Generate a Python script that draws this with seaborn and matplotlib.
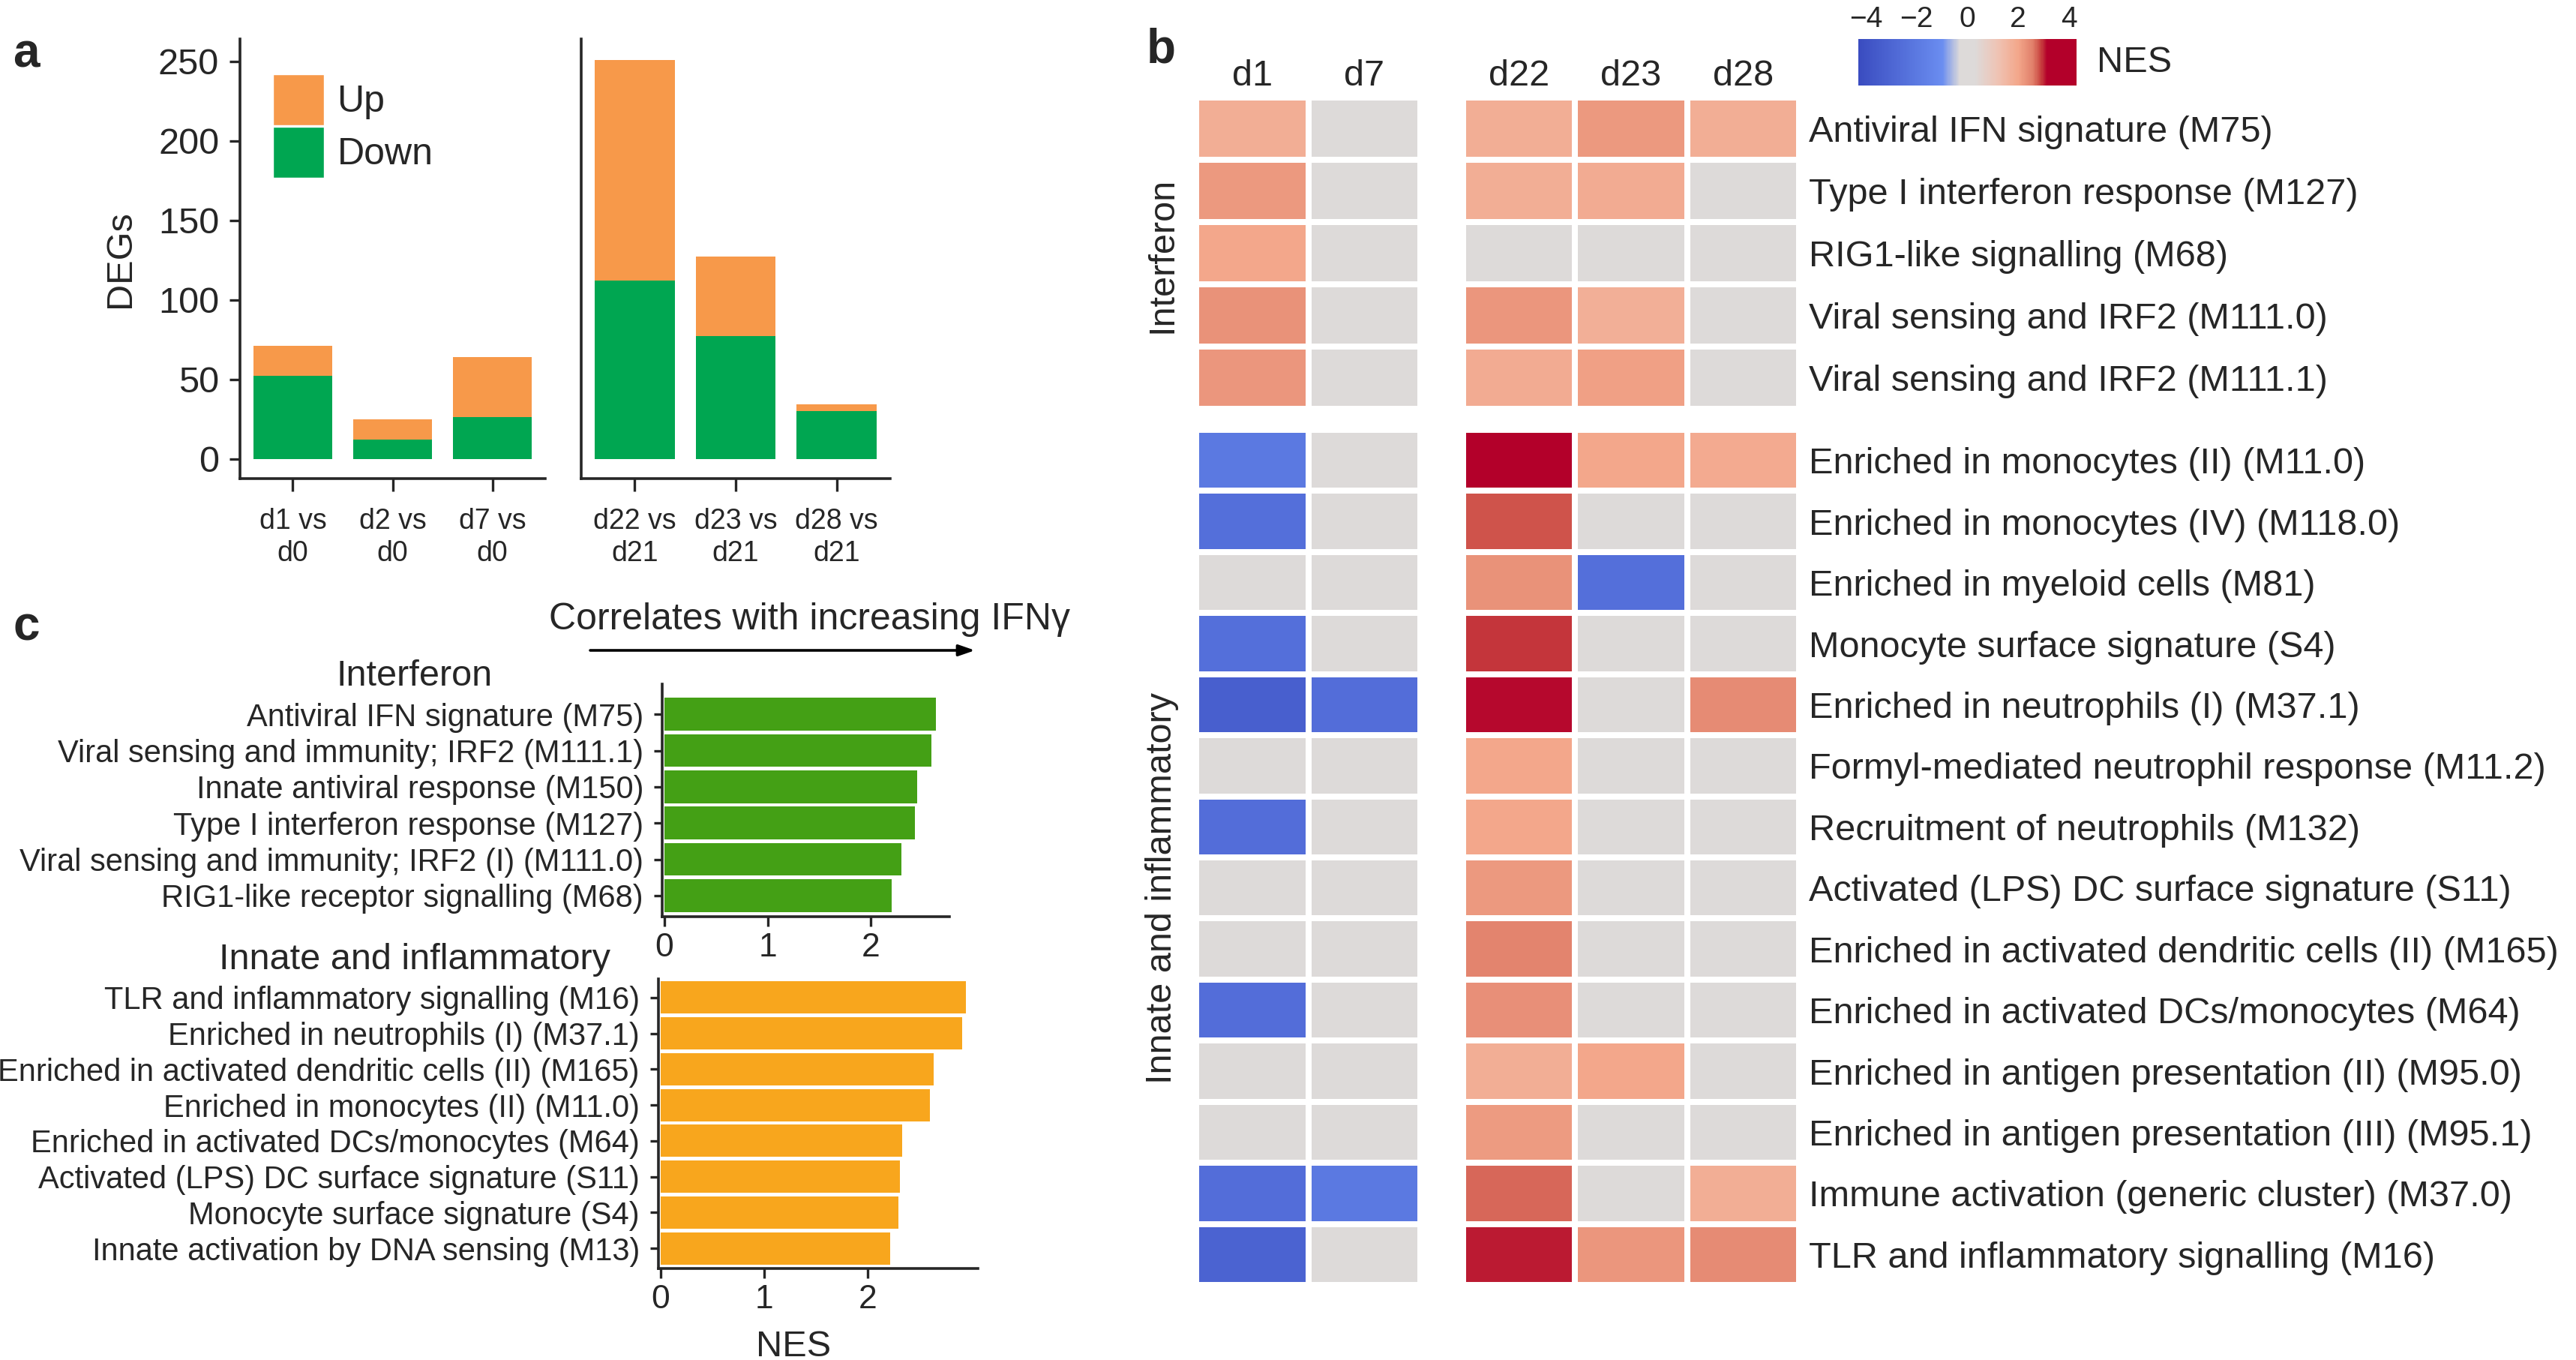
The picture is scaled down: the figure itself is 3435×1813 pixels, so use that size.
import numpy as np
import pandas as pd
import matplotlib

matplotlib.use("Agg")
import matplotlib.pyplot as plt
import seaborn as sns
from matplotlib.colors import LinearSegmentedColormap
from matplotlib.patches import Patch

# ---------------- data ----------------
# panel a: DEG counts per comparison
prime_labels = ["d1 vs\nd0", "d2 vs\nd0", "d7 vs\nd0"]
boost_labels = ["d22 vs\nd21", "d23 vs\nd21", "d28 vs\nd21"]
prime_down = [52, 12, 26]
prime_up = [19, 13, 38]
boost_down = [112, 77, 30]
boost_up = [139, 50, 4]

# panel b: NES heatmap (0 = not significant)
days_prime = ["d1", "d7"]
days_boost = ["d22", "d23", "d28"]
ifn_modules = [
    "Antiviral IFN signature (M75)",
    "Type I interferon response (M127)",
    "RIG1-like signalling (M68)",
    "Viral sensing and IRF2 (M111.0)",
    "Viral sensing and IRF2 (M111.1)",
]
ifn_nes = [
    [1.8, 0, 1.8, 2.2, 1.8],
    [2.2, 0, 1.8, 1.85, 0],
    [2.0, 0, 0, 0, 0],
    [2.3, 0, 2.25, 1.75, 0],
    [2.25, 0, 1.85, 2.1, 0],
]
inn_modules = [
    "Enriched in monocytes (II) (M11.0)",
    "Enriched in monocytes (IV) (M118.0)",
    "Enriched in myeloid cells (M81)",
    "Monocyte surface signature (S4)",
    "Enriched in neutrophils (I) (M37.1)",
    "Formyl-mediated neutrophil response (M11.2)",
    "Recruitment of neutrophils (M132)",
    "Activated (LPS) DC surface signature (S11)",
    "Enriched in activated dendritic cells (II) (M165)",
    "Enriched in activated DCs/monocytes (M64)",
    "Enriched in antigen presentation (II) (M95.0)",
    "Enriched in antigen presentation (III) (M95.1)",
    "Immune activation (generic cluster) (M37.0)",
    "TLR and inflammatory signalling (M16)",
]
inn_nes = [
    [-2.0, 0, 3.6, 2.0, 1.9],
    [-2.5, 0, 2.8, 0, 0],
    [0, 0, 2.3, -2.5, 0],
    [-2.5, 0, 2.95, 0, 0],
    [-3.3, -2.6, 3.1, 0, 2.4],
    [0, 0, 2.0, 0, 0],
    [-2.6, 0, 2.0, 0, 0],
    [0, 0, 2.2, 0, 0],
    [0, 0, 2.5, 0, 0],
    [-2.6, 0, 2.35, 0, 0],
    [0, 0, 1.8, 2.0, 0],
    [0, 0, 2.15, 0, 0],
    [-2.6, -2.0, 2.7, 0, 1.8],
    [-3.1, 0, 3.05, 2.25, 2.4],
]
cbar_ticks = [-4, -2, 0, 2, 4]

# panel c: NES correlating with IFNg
c_ifn_modules = [
    "Antiviral IFN signature (M75)",
    "Viral sensing and immunity; IRF2 (M111.1)",
    "Innate antiviral response (M150)",
    "Type I interferon response (M127)",
    "Viral sensing and immunity; IRF2 (I) (M111.0)",
    "RIG1-like receptor signalling (M68)",
]
c_ifn_nes = [2.63, 2.59, 2.45, 2.43, 2.30, 2.20]
c_inn_modules = [
    "TLR and inflammatory signalling (M16)",
    "Enriched in neutrophils (I) (M37.1)",
    "Enriched in activated dendritic cells (II) (M165)",
    "Enriched in monocytes (II) (M11.0)",
    "Enriched in activated DCs/monocytes (M64)",
    "Activated (LPS) DC surface signature (S11)",
    "Monocyte surface signature (S4)",
    "Innate activation by DNA sensing (M13)",
]
c_inn_nes = [2.95, 2.91, 2.64, 2.60, 2.33, 2.31, 2.30, 2.22]

# ---------------- style ----------------
sns.set_style("white")
plt.rcParams["font.family"] = ["Liberation Sans", "DejaVu Sans"]
plt.rcParams["axes.linewidth"] = 2.6

W, H = 3435, 1813
fig = plt.figure(figsize=(W / 100, H / 100), dpi=100)


def px_axes(x0, y0, x1, y1):
    """Add axes using pixel coordinates (origin top-left)."""
    return fig.add_axes([x0 / W, 1 - y1 / H, (x1 - x0) / W, (y1 - y0) / H])


UP_COL = "#f7994a"
DOWN_COL = "#00a651"
GREEN_C = "#44a015"
ORANGE_C = "#f8a61d"
FS = 35

# ---------------- panel a ----------------
ax_a1 = px_axes(320, 52, 727, 638)
ax_a2 = px_axes(775, 52, 1187, 638)
for ax, labels, down, up in [
    (ax_a1, prime_labels, prime_down, prime_up),
    (ax_a2, boost_labels, boost_down, boost_up),
]:
    totals = [d + u for d, u in zip(down, up)]
    sns.barplot(x=labels, y=totals, color=UP_COL, width=0.79, saturation=1,
                linewidth=0, ax=ax)
    sns.barplot(x=labels, y=down, color=DOWN_COL, width=0.79, saturation=1,
                linewidth=0, ax=ax)
    ax.set_ylim(-12.5, 264)
    ax.set_xlim(-0.53, 2.53)
    sns.despine(ax=ax)
    ax.tick_params(axis="x", length=12, width=2.4, labelsize=27, pad=16,
                   direction="out", bottom=True)
    for lab in ax.get_xticklabels():
        lab.set_linespacing(1.25)

ax_a1.set_yticks([0, 50, 100, 150, 200, 250])
ax_a1.tick_params(axis="y", length=10, width=2.4, labelsize=FS, pad=10,
                  direction="out", left=True)
ax_a1.set_ylabel("DEGs", fontsize=FS, labelpad=20)
ax_a2.set_yticks([])

handles = [Patch(facecolor=UP_COL, label="Up"), Patch(facecolor=DOWN_COL, label="Down")]
ax_a1.legend(handles=handles, loc="upper left", bbox_to_anchor=(364 / W, 1 - 99 / H),
             bbox_transform=fig.transFigure, frameon=False, fontsize=36,
             handlelength=1.36, handleheight=1.7, labelspacing=0.05,
             handletextpad=0.35, borderpad=0, borderaxespad=0)

fig.text(17 / W, 1 - 72 / H, "a", fontsize=46, fontweight="bold", va="center")

# ---------------- panel b ----------------
nes_cmap = LinearSegmentedColormap.from_list(
    "nes",
    [
        (0.0, "#3a4cc0"),
        ((-1.0 + 4.3) / 8.6, "#6a8df0"),
        ((-0.3 + 4.3) / 8.6, "#dddad9"),
        ((0.3 + 4.3) / 8.6, "#dddad9"),
        ((1.2 + 4.3) / 8.6, "#efc3b4"),
        ((2.0 + 4.3) / 8.6, "#f3a78b"),
        ((2.6 + 4.3) / 8.6, "#e07e69"),
        ((2.9 + 4.3) / 8.6, "#c8423f"),
        ((3.15 + 4.3) / 8.6, "#b3002a"),
        (1.0, "#b3002a"),
    ],
)
ifn_df = pd.DataFrame(ifn_nes, index=ifn_modules, columns=days_prime + days_boost)
inn_df = pd.DataFrame(inn_nes, index=inn_modules, columns=days_prime + days_boost)

ax_b1 = px_axes(1595, 130, 1894, 545)
ax_b2 = px_axes(1951, 130, 2399, 545)
ax_b3 = px_axes(1595, 573, 1894, 1713)
ax_b4 = px_axes(1951, 573, 2399, 1713)
cax = px_axes(2478, 52, 2769, 114)

hm_kw = dict(cmap=nes_cmap, vmin=-4.3, vmax=4.3, linewidths=4.6, linecolor="white")
sns.heatmap(ifn_df[days_prime], ax=ax_b1, cbar=False, **hm_kw)
sns.heatmap(ifn_df[days_boost], ax=ax_b2, cbar=False, **hm_kw)
sns.heatmap(inn_df[days_prime], ax=ax_b3, cbar=False, **hm_kw)
sns.heatmap(inn_df[days_boost], ax=ax_b4, cbar=True, cbar_ax=cax,
            cbar_kws={"orientation": "horizontal", "ticks": cbar_ticks}, **hm_kw)

for ax in [ax_b1, ax_b2]:
    ax.xaxis.tick_top()
    ax.tick_params(axis="x", length=0, labelsize=FS, pad=4)
for ax in [ax_b3, ax_b4]:
    ax.set_xticks([])
for ax in [ax_b1, ax_b3]:
    ax.set_yticks([])
    ax.set_ylabel("")
for ax in [ax_b2, ax_b4]:
    ax.yaxis.tick_right()
    ax.tick_params(axis="y", length=0, labelsize=35, pad=9, labelrotation=0)
    ax.set_ylabel("")

fig.text(1550 / W, 1 - 340 / H, "Interferon", rotation=90, fontsize=FS,
         ha="center", va="center")
fig.text(1550 / W, 1 - 1184 / H, "Innate and inflammatory", rotation=90,
         fontsize=FS, ha="center", va="center")

cbar = ax_b4.collections[0].colorbar
cbar.outline.set_visible(False)
cax.xaxis.set_ticks_position("top")
cax.set_xticks(cbar_ticks)
cax.set_xticklabels(["\u22124", "\u22122", "0", "2", "4"])
cax.tick_params(axis="x", which="major", direction="in", color="white", length=11,
                width=2.2, labelsize=28, pad=6, top=True, labeltop=True,
                bottom=False, labelbottom=False)
fig.text(2796 / W, 1 - 83 / H, "NES", fontsize=FS, va="center", ha="left")

fig.text(1529 / W, 1 - 66 / H, "b", fontsize=46, fontweight="bold", va="center")

# ---------------- panel c ----------------
ax_c1 = px_axes(883, 912, 1266, 1222)
ax_c2 = px_axes(878, 1305, 1304, 1691)
for ax, mods, vals, col, xmax, ylim in [
    (ax_c1, c_ifn_modules, c_ifn_nes, GREEN_C, 2.763, (5.58, -0.83)),
    (ax_c2, c_inn_modules, c_inn_nes, ORANGE_C, 3.065, (7.56, -0.52)),
]:
    sns.barplot(x=vals, y=mods, orient="h", color=col, saturation=1,
                width=0.9, linewidth=0, ax=ax)
    ax.set_xlim(-0.022, xmax)
    ax.set_ylim(*ylim)
    ax.set_xticks([0, 1, 2])
    ax.set_xlabel("")
    ax.set_ylabel("")
    sns.despine(ax=ax)
    ax.tick_params(axis="y", length=8, width=2.4, labelsize=30, pad=10, left=True)
    ax.tick_params(axis="x", length=9, width=2.4, labelsize=32, pad=6, bottom=True)

fig.text(553 / W, 1 - 901 / H, "Interferon", fontsize=FS, ha="center", va="center")
fig.text(553 / W, 1 - 1280 / H, "Innate and inflammatory", fontsize=FS,
         ha="center", va="center")
fig.text(1058 / W, 1 - 1795 / H, "NES", fontsize=FS, ha="center", va="center")
fig.text(1079 / W, 1 - 826 / H, "Correlates with increasing IFN\u03b3", fontsize=36,
         ha="center", va="center")
ax_c1.annotate("", xy=(1300 / W, 1 - 867 / H), xytext=(787 / W, 1 - 867 / H),
               xycoords="figure fraction", textcoords="figure fraction",
               arrowprops=dict(arrowstyle="-|>,head_length=1.3,head_width=0.45",
                               color="black", lw=2.6, shrinkA=0, shrinkB=0))
fig.text(17 / W, 1 - 836 / H, "c", fontsize=46, fontweight="bold", va="center")

fig.savefig("out.png", dpi=100, facecolor="white")
